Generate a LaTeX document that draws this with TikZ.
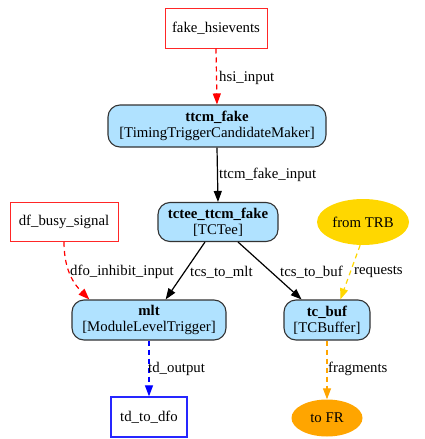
\documentclass[tikz,border=0pt]{standalone}
\usepackage{fontspec}
\setmainfont{Liberation Serif}
\usepackage{xcolor}
\usetikzlibrary{shapes.geometric, arrows.meta, positioning, calc}

\definecolor{modfill}{HTML}{B0E2FF}
\definecolor{trbgold}{HTML}{FFD700}
\definecolor{frorange}{HTML}{FFA500}

\begin{document}
\begin{tikzpicture}[x=1pt, y=-1pt,
    every node/.style={font=\fontsize{14.8}{16}\selectfont},
    module/.style={draw=black!80, fill=modfill, rounded corners=12pt, line width=1.1pt, align=center, inner sep=0pt},
    endpt/.style={line width=1pt, inner sep=0pt},
    extnode/.style={ellipse, inner sep=0pt},
    lbl/.style={anchor=west, inner sep=0pt},
    conn/.style={line width=1.2pt, -{Triangle[length=11pt,width=8pt]}},
    dsh/.style={conn, dash pattern=on 5pt off 4pt}]
\useasboundingbox (0,0) rectangle (424,439);

% sources and sinks
\node[endpt, draw=red!85, minimum width=102, minimum height=40] (hsi) at (216,28) {fake\_hsievents};
\node[endpt, draw=red!85, minimum width=108, minimum height=39] (busy) at (64,222) {df\_busy\_signal};
\node[extnode, fill=trbgold, minimum width=92, minimum height=46] (trb) at (363,222) {from TRB};
\node[endpt, draw=blue!85, line width=1.3pt, minimum width=76, minimum height=40] (dfo) at (149,417) {td\_to\_dfo};
\node[extnode, fill=frorange, minimum width=71, minimum height=37] (fr) at (327,418) {to FR};

% modules
\node[module, minimum width=218, minimum height=42] (ttcm) at (217,126) {\textbf{ttcm\_fake}\\{[}TimingTriggerCandidateMaker{]}};
\node[module, minimum width=120, minimum height=39] (tctee) at (218,222) {\textbf{tctee\_ttcm\_fake}\\{[}TCTee{]}};
\node[module, minimum width=154, minimum height=40] (mlt) at (149,320) {\textbf{mlt}\\{[}ModuleLevelTrigger{]}};
\node[module, minimum width=86, minimum height=40] (tcbuf) at (327,320) {\textbf{tc\_buf}\\{[}TCBuffer{]}};

% connections
\draw[dsh, red] (hsi.south) -- (ttcm.north);
\draw[conn] (ttcm.south) -- (tctee.north);
\draw[dsh, red] (busy.south) .. controls +(0,30) and +(-14,-14) .. (mlt.161);
\draw[conn] (tctee.237) -- (mlt.51);
\draw[conn] (tctee.315) -- (tcbuf.141);
\draw[dsh, trbgold] (trb.263) -- (tcbuf.57);
\draw[dsh, blue] (mlt.south) -- (dfo.north);
\draw[dsh, frorange] (tcbuf.south) -- (fr.north);

% edge labels
\node[lbl] (l1) at (219,78) {hsi\_input};
\node[lbl] (l2) at (219,175) {ttcm\_fake\_input};
\node[lbl] (l3) at (70,272) {dfo\_inhibit\_input};
\node[lbl] (l4) at (190,272) {tcs\_to\_mlt};
\node[lbl] (l5) at (280,272) {tcs\_to\_buf};
\node[lbl] (l6) at (354,272) {requests};
\node[lbl] (l7) at (148,369) {td\_output};
\node[lbl] (l8) at (328,369) {fragments};
\end{tikzpicture}
\end{document}
